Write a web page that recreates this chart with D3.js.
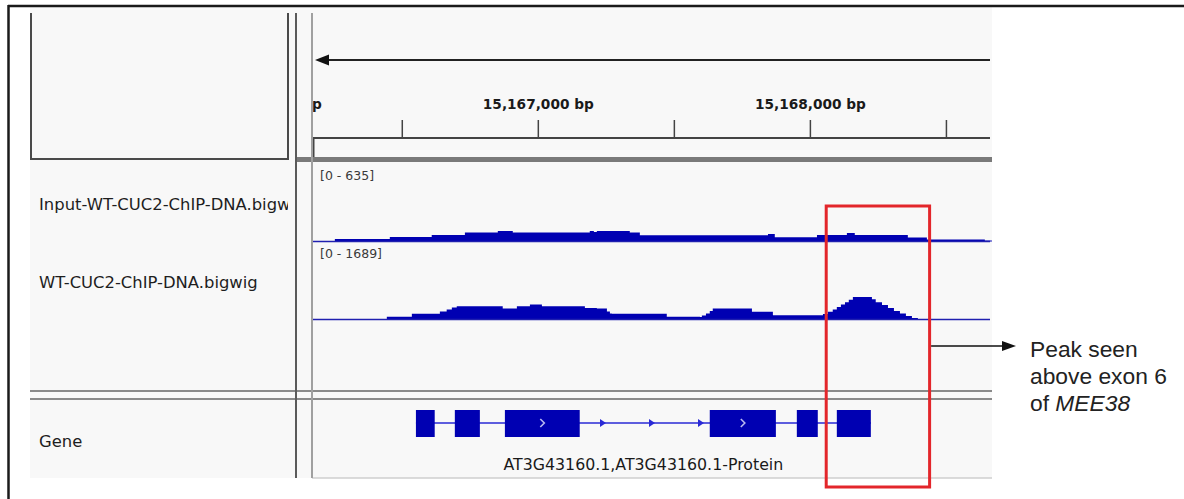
<!DOCTYPE html>
<html>
<head>
<meta charset="utf-8">
<script src="https://cdn.jsdelivr.net/npm/d3@7"></script>
<style>
  html, body { margin: 0; padding: 0; background: #ffffff; }
  svg { display: block; }
</style>
</head>
<body>
<svg id="chart" width="1184" height="499"></svg>
<script>
// ---------------- DATA ----------------
const viewStart = 15166170;
const viewEnd = 15168662;
const rulerTicks = [15166000, 15166500, 15167000, 15167500, 15168000, 15168500];
const rulerLabels = ["15,166,000 bp", "", "15,167,000 bp", "", "15,168,000 bp", ""];

const trackNames = ["Input-WT-CUC2-ChIP-DNA.bigwig", "WT-CUC2-ChIP-DNA.bigwig", "Gene"];
const rangeLabels = ["[0 - 635]", "[0 - 1689]"];
const inputMax = 635;
const chipMax = 1689;

// Input track (step starts, bp) and values
const inputPos = [15166170, 15166254, 15166456, 15166610, 15166732, 15166853, 15166908, 15167191, 15167206, 15167217, 15167338, 15167375, 15167846, 15167871, 15168026, 15168136, 15168165, 15168360, 15168430, 15168643, 15168669];
const inputVal = [4, 21, 39, 56, 77, 90, 77, 90, 82, 90, 77, 54, 64, 36, 56, 73, 56, 34, 17, 9, 0];

// ChIP track
const chipPos = [15166170, 15166445, 15166537, 15166640, 15166665, 15166684, 15166702, 15166871, 15166923, 15166971, 15167015, 15167173, 15167217, 15167254, 15167265, 15167272, 15167474, 15167596, 15167603, 15167618, 15167632, 15167643, 15167787, 15167864, 15168048, 15168066, 15168084, 15168099, 15168114, 15168129, 15168143, 15168158, 15168228, 15168242, 15168265, 15168287, 15168309, 15168331, 15168353, 15168375, 15168397, 15168412];
const chipVal = [0, 62, 130, 182, 228, 274, 303, 251, 303, 342, 303, 267, 251, 182, 137, 130, 62, 57, 91, 137, 194, 251, 176, 98, 125, 176, 228, 285, 342, 399, 456, 515, 467, 399, 331, 262, 194, 137, 80, 34, 0, 0];

// Gene model AT3G43160.1 (exons, bp)
const exonStart = [15166552, 15166695, 15166879, 15167632, 15167952, 15168099];
const exonEnd   = [15166621, 15166787, 15167154, 15167875, 15168029, 15168224];
const geneLabel = "AT3G43160.1,AT3G43160.1-Protein";

// Highlight region and annotation
const highlightRange = [15168060, 15168440];
const noteLines = ["Peak seen", "above exon 6", "of "];
const noteItalic = "MEE38";

// ---------------- DRAW ----------------
const svg = d3.select("#chart");
const blue = "#0000b2";

// panel background
svg.append("rect").attr("x", 30).attr("y", 7).attr("width", 962).attr("height", 471).attr("fill", "#f8f8f8");

// outer border (top + left)
svg.append("line").attr("x1", 8).attr("x2", 1184).attr("y1", 6).attr("y2", 6).attr("stroke", "#1a1a1a").attr("stroke-width", 2.5);
svg.append("line").attr("x1", 8.5).attr("x2", 8.5).attr("y1", 5).attr("y2", 499).attr("stroke", "#1a1a1a").attr("stroke-width", 2.5);

const x = d3.scaleLinear().domain([viewStart, viewEnd]).range([312, 990]);

// clip for data panel
const defs = svg.append("defs");
defs.append("clipPath").attr("id", "dataClip").append("rect")
  .attr("x", 313).attr("y", 0).attr("width", 679).attr("height", 499);

// name panel box (top)
svg.append("path").attr("d", "M31,13 V159 H288 V13").attr("fill", "none").attr("stroke", "#4a4a4a").attr("stroke-width", 2);

// thick separator below ruler
svg.append("rect").attr("x", 297).attr("y", 157).attr("width", 695).attr("height", 5).attr("fill", "#7a7a7a");

// gene separator double lines
[391, 399].forEach(yy => {
  svg.append("line").attr("x1", 30).attr("x2", 992).attr("y1", yy).attr("y2", yy).attr("stroke", "#8a8a8a").attr("stroke-width", 2);
});

// bottom line of data panel
svg.append("line").attr("x1", 312).attr("x2", 992).attr("y1", 478).attr("y2", 478).attr("stroke", "#cfcfcf").attr("stroke-width", 1.5);

// vertical dividers
svg.append("line").attr("x1", 296).attr("x2", 296).attr("y1", 13).attr("y2", 478).attr("stroke", "#5a5a5a").attr("stroke-width", 2);
svg.append("line").attr("x1", 312).attr("x2", 312).attr("y1", 13).attr("y2", 478).attr("stroke", "#a0a0a0").attr("stroke-width", 2);

const data = svg.append("g").attr("clip-path", "url(#dataClip)");

// strand arrow line at top
data.append("line").attr("x1", 320).attr("x2", 990).attr("y1", 60).attr("y2", 60).attr("stroke", "#222").attr("stroke-width", 2);
data.append("path").attr("d", "M315,60 L329,54.5 L329,65.5 Z").attr("fill", "#111");

// ruler
const rulerAxis = d3.axisTop(x).tickValues(rulerTicks).tickSize(18).tickPadding(11)
  .tickFormat((d, i) => rulerLabels[i]);
const rg = data.append("g").attr("transform", "translate(0,138)").call(rulerAxis);
rg.select(".domain").attr("stroke", "#444").attr("stroke-width", 2).attr("d", "M312,0H990");
rg.selectAll(".tick line").attr("stroke", "#444").attr("stroke-width", 1.5);
rg.selectAll(".tick text").attr("font-family", "DejaVu Sans").attr("font-weight", "bold")
  .attr("font-size", 13.7).attr("fill", "#1a1a1a");
data.append("line").attr("x1", 313.5).attr("x2", 313.5).attr("y1", 138).attr("y2", 157).attr("stroke", "#444").attr("stroke-width", 2);

// tracks
function drawTrack(pos, val, maxV, base, top, label) {
  const y = d3.scaleLinear().domain([0, maxV]).range([base, top]);
  const pts = pos.map((p, i) => [p, val[i]]);
  const area = d3.area().curve(d3.curveStepAfter).x(d => x(d[0])).y0(y(0)).y1(d => y(d[1]));
  data.append("path").datum(pts).attr("d", area).attr("fill", blue);
  data.append("line").attr("x1", 312).attr("x2", 990).attr("y1", y(0)).attr("y2", y(0))
    .attr("stroke", "#2020b0").attr("stroke-width", 1.6);
  data.append("text").attr("x", 320).attr("y", top + 12).text(label)
    .attr("font-family", "DejaVu Sans").attr("font-size", 12.5).attr("fill", "#3a3a3a");
}
drawTrack(inputPos, inputVal, inputMax, 241.5, 168, rangeLabels[0]);
drawTrack(chipPos, chipVal, chipMax, 319.5, 246, rangeLabels[1]);

// gene model
const geneY = 423;
const intronColor = "#2a2ad6";
data.append("line").attr("x1", x(exonStart[0])).attr("x2", x(exonEnd[exonEnd.length - 1]))
  .attr("y1", geneY).attr("y2", geneY).attr("stroke", intronColor).attr("stroke-width", 1.5);
// intron strand arrows on a fixed pixel grid
const arrowSpacing = 49, arrowOffset = 603;
for (let i = 0; i < exonStart.length - 1; i++) {
  const a = x(exonEnd[i]), b = x(exonStart[i + 1]);
  for (let px = arrowOffset - arrowSpacing * 10; px < 1000; px += arrowSpacing) {
    if (px > a + 4 && px < b - 4) {
      data.append("path").attr("d", `M${px + 3},${geneY} L${px - 3},${geneY - 4} L${px - 3},${geneY + 4} Z`).attr("fill", intronColor);
    }
  }
}
data.selectAll("rect.exon").data(exonStart.map((s, i) => [s, exonEnd[i]])).enter()
  .append("rect").attr("class", "exon")
  .attr("x", d => x(d[0])).attr("width", d => x(d[1]) - x(d[0]))
  .attr("y", 410).attr("height", 27).attr("fill", blue);
// chevrons in wide exons
exonStart.forEach((s, i) => {
  const w = x(exonEnd[i]) - x(s);
  if (w > 50) {
    const cx = (x(s) + x(exonEnd[i])) / 2;
    data.append("path").attr("d", `M${cx - 2},${geneY - 4} L${cx + 2},${geneY} L${cx - 2},${geneY + 4}`)
      .attr("fill", "none").attr("stroke", "#b8b8f0").attr("stroke-width", 1.6);
  }
});
data.append("text").attr("x", (x(exonStart[0]) + x(exonEnd[exonEnd.length - 1])) / 2)
  .attr("y", 470).attr("text-anchor", "middle").text(geneLabel)
  .attr("font-family", "DejaVu Sans").attr("font-size", 15.8).attr("fill", "#1a1a1a");

// track names (clipped)
defs.append("clipPath").attr("id", "nameClip").append("rect")
  .attr("x", 30).attr("y", 0).attr("width", 258).attr("height", 499);
const names = svg.append("g").attr("clip-path", "url(#nameClip)");
[210, 288, 447].forEach((yy, i) => {
  names.append("text").attr("x", 39).attr("y", yy).text(trackNames[i])
    .attr("font-family", "DejaVu Sans").attr("font-size", 16.4).attr("fill", "#1e1e1e");
});

// red highlight box
svg.append("rect").attr("x", x(highlightRange[0])).attr("y", 206)
  .attr("width", x(highlightRange[1]) - x(highlightRange[0])).attr("height", 281)
  .attr("fill", "none").attr("stroke", "#e3262b").attr("stroke-width", 3);

// annotation arrow
const ax0 = x(highlightRange[1]) + 1.5;
svg.append("line").attr("x1", ax0).attr("x2", 1004).attr("y1", 346).attr("y2", 346).attr("stroke", "#111").attr("stroke-width", 1.5);
svg.append("path").attr("d", "M1016,346 L1002,341 L1002,351 Z").attr("fill", "#111");

const note = svg.append("g").attr("font-family", "Liberation Sans").attr("font-size", 22.8).attr("fill", "#222");
[357, 384, 411].forEach((yy, i) => {
  const t = note.append("text").attr("x", 1030).attr("y", yy).text(noteLines[i]);
  if (i === 2) t.append("tspan").attr("font-style", "italic").text(noteItalic);
});
</script>
</body>
</html>
